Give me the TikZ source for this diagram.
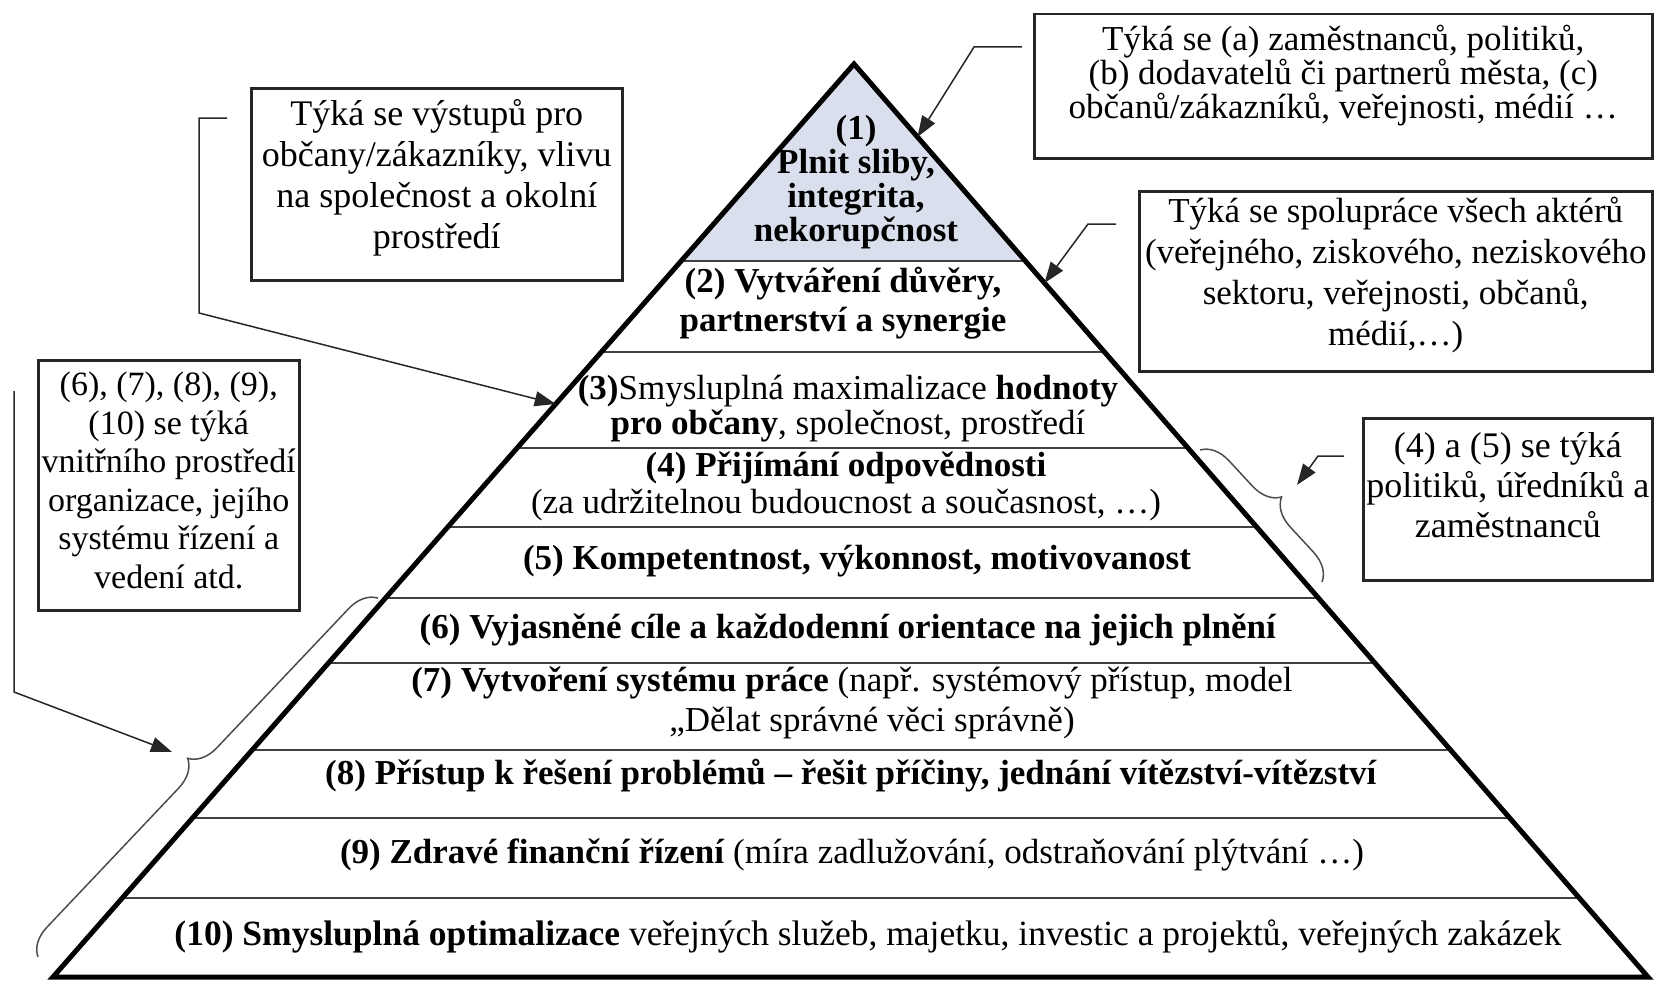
\documentclass[tikz,border=0pt]{standalone}
\usepackage{fontspec}
\setmainfont{Liberation Serif}
\usetikzlibrary{arrows.meta,calc,decorations.pathreplacing}
\definecolor{apexFill}{HTML}{D9DFEC}

\begin{document}
\begin{tikzpicture}[
  x=1pt, y=-1pt,
  font=\fontsize{35}{38}\selectfont,
  tier/.style={align=center, inner sep=0pt},
  note/.style={draw=black!85, line width=2.5pt, align=center, anchor=north west, inner xsep=0pt},
  rim/.style={line width=5pt, line join=miter},
  rung/.style={line width=2.5pt, draw=black!75},
  pointer/.style={-{Triangle[length=21pt,width=15pt]}, line width=1.5pt, draw=black!85},
  curly/.style={decorate, decoration={brace, amplitude=28pt}, line width=1.5pt, draw=black!70},
]
\useasboundingbox (0,0) rectangle (1656,982);

\coordinate (apex) at (854,64);
\coordinate (bl) at (53,977);
\coordinate (br) at (1648,977);

\fill[apexFill] (apex) -- ($(apex)!{197/913}!(bl)$) -- ($(apex)!{197/913}!(br)$) -- cycle;
\foreach \y in {261,352,448,527,598,663,750,818,898}
  \draw[rung] ($(apex)!{(\y-64)/913}!(bl)$) -- ($(apex)!{(\y-64)/913}!(br)$);
\draw[rim] (apex) -- (bl) -- (br) -- cycle;

\node[tier, font=\fontsize{35}{34}\selectfont\bfseries] (t1) at (856,182) {(1)\\Plnit sliby,\\integrita,\\nekorupčnost};
\node[tier, font=\fontsize{35}{39}\selectfont\bfseries] (t2) at (843,303) {(2) Vytváření důvěry,\\partnerství a synergie};
\node[tier, font=\fontsize{35}{35}\selectfont] (t3) at (848,409) {\textbf{(3)}Smysluplná maximalizace \textbf{hodnoty}\\\textbf{pro občany}, společnost, prostředí};
\node[tier, font=\fontsize{35}{37}\selectfont] (t4) at (846,486) {\textbf{(4) Přijímání odpovědnosti}\\(za udržitelnou budoucnost a současnost, …)};
\node[tier] (t5) at (857,561) {\textbf{(5) Kompetentnost, výkonnost, motivovanost}};
\node[tier] (t6) at (848,630) {\textbf{(6) Vyjasněné cíle a každodenní orientace na jejich plnění}};
\node[tier, font=\fontsize{35}{40}\selectfont] (t7) at (852,703) {\textbf{(7) Vytvoření systému práce} (např. systémový přístup, model\\\hspace*{40pt}„Dělat správné věci správně)};
\node[tier] (t8) at (851,776) {\textbf{(8) Přístup k řešení problémů – řešit příčiny, jednání vítězství-vítězství}};
\node[tier] (t9) at (852,855) {\textbf{(9) Zdravé finanční řízení} (míra zadlužování, odstraňování plýtvání …)};
\node[tier, font=\fontsize{35.5}{38}\selectfont] (t10) at (868,936) {\textbf{(10) Smysluplná optimalizace} veřejných služeb, majetku, investic a projektů, veřejných zakázek};

\node[note, minimum width=618pt, inner ysep=11pt, font=\fontsize{35}{34}\selectfont] (boxA) at (1033,13) {Týká se (a) zaměstnanců, politiků,\\(b) dodavatelů či partnerů města, (c)\\občanů/zákazníků, veřejnosti, médií …\rule[-29pt]{0pt}{29pt}};
\node[note, minimum width=371pt, inner ysep=11pt, font=\fontsize{36}{41}\selectfont] (boxB) at (250,87) {Týká se výstupů pro\\občany/zákazníky, vlivu\\na společnost a okolní\\prostředí\rule[-21pt]{0pt}{21pt}};
\node[note, minimum width=261pt, inner ysep=12pt, font=\fontsize{34}{38.5}\selectfont] (boxC) at (37,359) {(6), (7), (8), (9),\\(10) se týká\\vnitřního prostředí\\organizace, jejího\\systému řízení a\\vedení atd.\rule[-10pt]{0pt}{10pt}};
\node[note, minimum width=513pt, inner ysep=6pt, font=\fontsize{35}{41}\selectfont] (boxD) at (1138,190) {Týká se spolupráce všech aktérů\\(veřejného, ziskového, neziskového\\sektoru, veřejnosti, občanů,\\médií,…)\rule[-20pt]{0pt}{20pt}};
\node[note, minimum width=289pt, inner ysep=14pt, font=\fontsize{36}{40}\selectfont] (boxE) at (1362,417) {(4) a (5) se týká\\politiků, úředníků a\\zaměstnanců\rule[-29pt]{0pt}{29pt}};

\coordinate (aBend) at (974,47);
\coordinate (aTip) at ($(apex)!{73/913}!(br)$);
\draw[pointer] ([xshift=-11pt]boxA.west |- aBend) -- (aBend) -- (aTip);

\coordinate (bBend) at (199,118);
\coordinate (bKnee) at (199,313);
\coordinate (bTip) at ($(apex)!{340/913}!(bl)$);
\draw[pointer] ([xshift=-23pt]boxB.west |- bBend) -- (bBend) -- (bKnee) -- (bTip);

\coordinate (cTop) at (14,391);
\coordinate (cKnee) at (14,692);
\coordinate (cTip) at (172,752);
\draw[pointer] (cTop) -- (cKnee) -- (cTip);

\coordinate (dBend) at (1088,224);
\coordinate (dTip) at ($(apex)!{219/913}!(br)$);
\draw[pointer] ([xshift=-22pt]boxD.west |- dBend) -- (dBend) -- (dTip);

\coordinate (eBend) at (1318,456);
\coordinate (eTip) at (1297,485);
\draw[pointer] ([xshift=-18pt]boxE.west |- eBend) -- (eBend) -- (eTip);

\coordinate (lbTop) at (378,598);
\coordinate (lbBot) at (38,957);
\draw[curly] (lbBot) -- (lbTop);
\coordinate (rbTop) at (1200,450);
\coordinate (rbBot) at (1322,582);
\draw[curly] (rbTop) -- (rbBot);
\end{tikzpicture}
\end{document}
